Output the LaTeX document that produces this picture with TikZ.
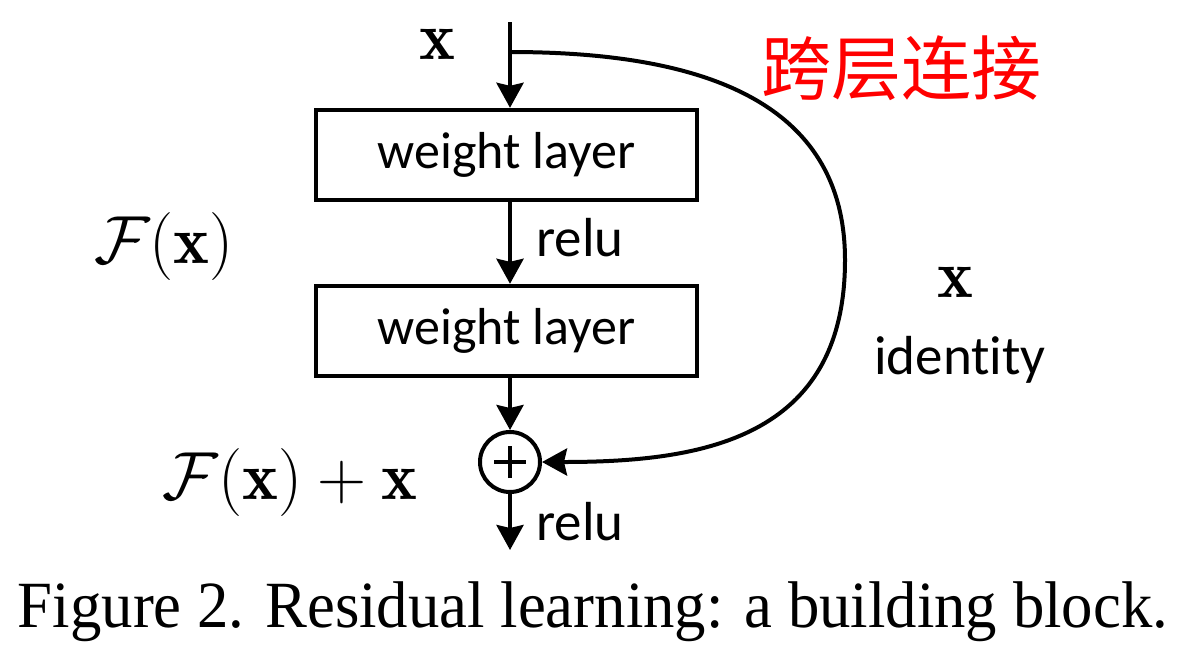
\RequirePackage{fix-cm}
\documentclass[tikz,border=0pt]{standalone}
\usepackage{fontspec}
\usepackage{amsmath}
\newfontfamily\calfont[Ligatures=NoCommon]{Carlito}
\newfontfamily\cjk{Noto Sans CJK SC}
\newfontfamily\capfont{Liberation Serif}
\usetikzlibrary{arrows.meta}
\begin{document}
\begin{tikzpicture}[x=0.5pt,y=-0.5pt,
  line width=2pt,
  arr/.style={-{Stealth[length=12.5pt,width=13.5pt,inset=1.5pt]}},
  layerbox/.style={draw,line width=2.2pt,minimum width=190.5pt,minimum height=45pt,inner sep=0pt,font=\calfont\fontsize{26}{26}\selectfont},
  lbl/.style={inner sep=0pt,font=\calfont\fontsize{27.5}{27.5}\selectfont},
  mth/.style={inner sep=0pt,font=\fontsize{34}{34}\selectfont}]
\useasboundingbox (0,0) rectangle (1199,660);
\coordinate (top) at (510,22);
\coordinate (branch) at (510,52);
\node[layerbox] (w1) at (506.5,155) {weight layer};
\node[layerbox] (w2) at (506.5,331) {weight layer};
\node[draw,circle,minimum size=30pt,inner sep=0pt] (add) at (510,462) {};
\draw ([xshift=-8pt]add.center) -- ([xshift=8pt]add.center);
\draw ([yshift=-8pt]add.center) -- ([yshift=8pt]add.center);
\coordinate (out) at (510,550);
\draw[arr] (top) -- (w1.north -| top);
\draw[arr] (w1.south -| top) -- (w2.north -| top);
\draw[arr] (w2.south -| top) -- (add.north);
\draw[arr] (add.south) -- (out);
\draw[arr] (branch) .. controls (700,52) and (845,100) .. (845,260)
  .. controls (845,440) and (700,462) .. (add.east);
\node[mth] (xin) at (437,44) {$\mathbf{x}$};
\node[lbl] (relu1) at (580,238) {relu};
\node[lbl] (relu2) at (580,522) {relu};
\node[mth] (fx) at (164,246) {$\mathcal{F}(\mathbf{x})$};
\node[mth] (fxx) at (290,482) {$\mathcal{F}(\mathbf{x})+\mathbf{x}$};
\node[mth] (xid) at (955,282) {$\mathbf{x}$};
\node[lbl] (ident) at (960,360) {identity};
\node[inner sep=0pt,text=red,font=\cjk\fontsize{35}{35}\selectfont] (skip) at (901,68) {跨层连接};
\node[inner sep=0pt] (cap) at (593,612) {\resizebox{575pt}{\height}{\capfont\fontsize{33}{33}\selectfont Figure 2. Residual learning: a building block.}};
\end{tikzpicture}
\end{document}
